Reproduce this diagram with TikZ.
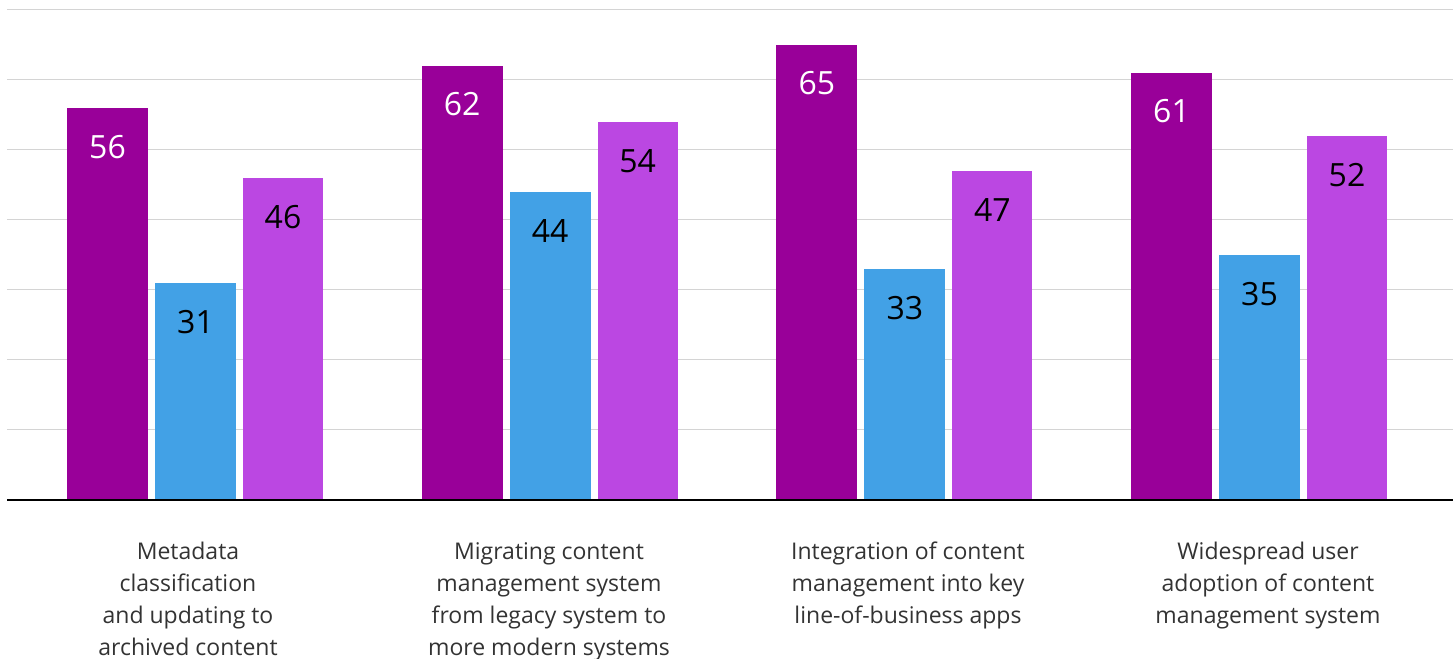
\documentclass[tikz,border=0pt]{standalone}
\usepackage{fontspec}
\setmainfont{Open Sans}
\definecolor{cPurple}{RGB}{153,0,153}
\definecolor{cBlue}{RGB}{66,161,230}
\definecolor{cViolet}{RGB}{187,71,226}
\definecolor{cGrid}{RGB}{212,212,212}
\definecolor{cText}{RGB}{51,51,51}
\tikzset{
  gridline/.style={draw=cGrid, line width=1.6bp},
  baseline/.style={draw=black, line width=1.4bp},
  valuelabel/.style={anchor=base, inner sep=0pt, font=\fontsize{32bp}{36bp}\selectfont},
  catlabel/.style={anchor=base, inner sep=0pt, align=center, text=cText, font=\fontsize{23bp}{32bp}\selectfont},
}
\begin{document}
\begin{tikzpicture}[x=1bp,y=-1bp]
\useasboundingbox (0,0) rectangle (1453,659);
% grid
\foreach \k in {0,...,6} {
  \coordinate (gl\k) at (7,{9.5+70*\k});
  \coordinate (gr\k) at (1453,{9.5+70*\k});
  \draw[gridline] (gl\k) -- (gr\k);
}
% bars
\foreach \g/\a/\b/\c in {0/56/31/46, 1/62/44/54, 2/65/33/47, 3/61/35/52} {
  \pgfmathsetmacro{\xo}{67+354.67*\g}
  \fill[cPurple] (\xo,500) rectangle ({\xo+81},{500-7*\a});
  \fill[cBlue] ({\xo+88},500) rectangle ({\xo+169},{500-7*\b});
  \fill[cViolet] ({\xo+176},500) rectangle ({\xo+256},{500-7*\c});
  \node[valuelabel, text=white] (va\g) at ({\xo+40.5},{550-7*\a}) {\a};
  \node[valuelabel, text=black] (vb\g) at ({\xo+128.5},{550-7*\b}) {\b};
  \node[valuelabel, text=black] (vc\g) at ({\xo+216},{550-7*\c}) {\c};
}
\coordinate (bl) at (7,500);
\coordinate (br) at (1453,500);
\draw[baseline] (bl) -- (br);
% category labels (base = baseline of last line)
\node[catlabel] (cat1) at (188,655) {Metadata\\classification\\and updating to\\archived content};
\node[catlabel] (cat2) at (549,655) {Migrating content\\management system\\from legacy system to\\more modern systems};
\node[catlabel] (cat3) at (908,623) {Integration of content\\management into key\\line-of-business apps};
\node[catlabel] (cat4) at (1268,623) {Widespread user\\adoption of content\\management system};
\end{tikzpicture}
\end{document}
